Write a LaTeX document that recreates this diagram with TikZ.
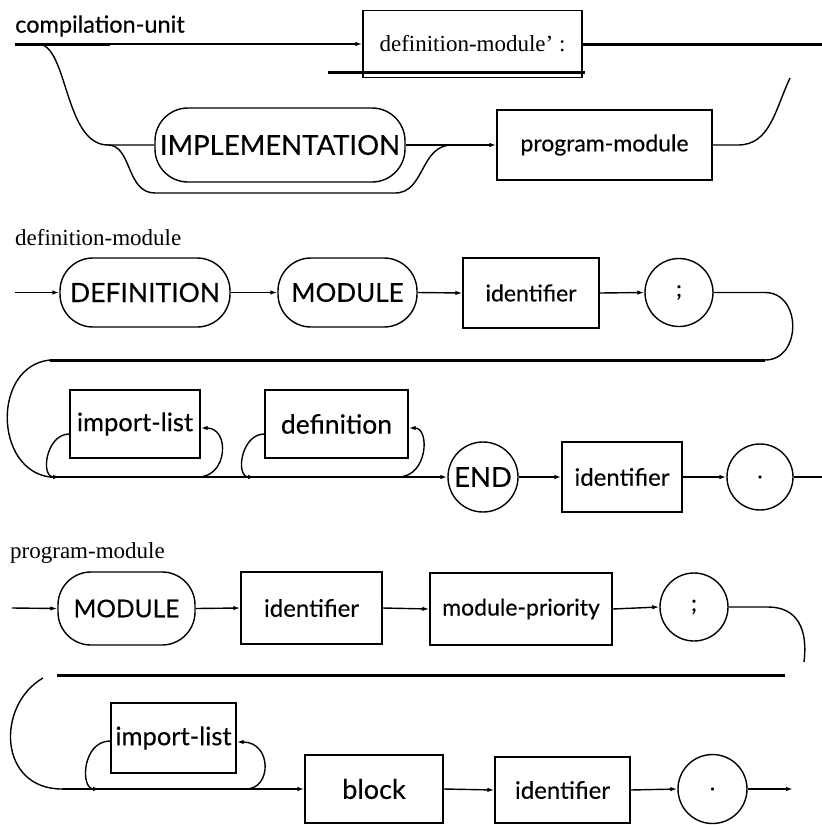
\documentclass[tikz,border=0pt]{standalone}
\usepackage{fontspec}
\setmainfont{Liberation Serif}
\newfontfamily\railsans[FakeBold=0.3]{Lato}
\usetikzlibrary{arrows.meta,calc}

\newcommand\rsz[1]{\railsans\fontsize{#1}{#1}\selectfont}

\tikzset{
  rail/.style={line width=1.4pt},
  heavy/.style={line width=3pt},
  arr/.style={rail,-{Latex[length=7pt,width=4.5pt]}},
  nonterm/.style={draw,rail,rectangle,inner sep=0pt,font=\rsz{23}},
  term/.style={draw,rail,rectangle,rounded corners=33pt,inner sep=0pt,font=\rsz{26}},
  punct/.style={draw,rail,circle,inner sep=0pt,font=\rsz{23}},
  title/.style={anchor=west,inner sep=0pt},
}

\begin{document}
\begin{tikzpicture}[x=1pt,y=-1pt]
\useasboundingbox (0,0) rectangle (822,825);

% ---------------- compilation-unit ----------------
\node[title,font=\rsz{23.5}] (t1) at (15,26) {compilation-unit};
\node[nonterm,font=\fontsize{23}{23}\selectfont,minimum width=219pt,minimum height=67pt] (defm) at (472.5,44) {definition-module' :};
\node[term,font=\rsz{27.5},minimum width=250pt,minimum height=74pt] (impl) at (280,145) {IMPLEMENTATION};
\node[nonterm,minimum width=215pt,minimum height=70pt] (pm) at (604.5,145) {program-module};

\coordinate (cuA) at (15,44);
\coordinate (cuB) at (110,44);
\coordinate (cuEnd) at (822,44);
\coordinate (ulA) at (328,72);
\coordinate (ulB) at (585,72);
\coordinate (pmEnd) at (790,78);

\draw[heavy] (cuA) -- (cuB);
\draw[arr] (cuB) -- (defm.west);
\draw[heavy] (ulA) -- (ulB);
\draw[heavy] (defm.east) -- (cuEnd);
\draw[rail] (38,44) .. controls (68,44) and (64,145) .. (108,145) -- (impl.west);
\draw[rail] (108,145) .. controls (132,145) and (126,193) .. (155,193) -- (395,193)
            .. controls (425,193) and (420,145) .. (452,145);
\draw[arr] (impl.east) -- (pm.west);
\draw[rail] (pm.east) -- (738,145) .. controls (770,145) and (775,110) .. (pmEnd);

% ---------------- definition-module ----------------
\node[title,font=\fontsize{23}{23}\selectfont] (t2) at (15,238) {definition-module};
\node[term,font=\rsz{26.5},minimum width=170pt,minimum height=69pt] (def) at (145,292.5) {DEFINITION};
\node[term,font=\rsz{26},minimum width=139pt,minimum height=69pt] (mod) at (347.5,292.5) {MODULE};
\node[nonterm,minimum width=136pt,minimum height=70pt] (id1) at (531,293) {identifier};
\node[punct,minimum size=68pt] (semi1) at (679,292.5) {;};

\node[nonterm,font=\rsz{25.5},minimum width=130pt,minimum height=68pt] (il1) at (135,424) {import-list};
\node[nonterm,font=\rsz{26.5},minimum width=143pt,minimum height=68pt] (defn) at (336.5,424) {definition};
\node[punct,font=\rsz{27.5},minimum size=70pt] (end) at (483,477) {END};
\node[nonterm,font=\rsz{24},minimum width=120pt,minimum height=70pt] (id2) at (622,477) {identifier};
\node[punct,minimum size=66pt] (dot1) at (760,477) {.};

\coordinate (s2in) at (15,292.5);
\coordinate (s2out) at (822,477);
\coordinate (rowL) at (50,477);

\draw[arr] (s2in) -- (def.west);
\draw[arr] (def.east) -- (mod.west);
\draw[arr] (mod.east) -- (id1.west);
\draw[arr] (id1.east) -- (semi1.west);
\draw[rail] (semi1.east) -- (765,292.5) .. controls (802,292.5) and (802,360) .. (765,360);
\draw[heavy] (765,360) -- (50,360);
\draw[rail] (50,360) .. controls (-8,366) and (-6,470) .. (rowL);
\draw[arr] (rowL) -- (end.west);
% repetition loops
\draw[arr] ($(il1.west)+(0,10)$) .. controls (46,434) and (40,477) .. (60,477);
\draw[arr] (198,477) .. controls (228,477) and (230,428) .. ($(il1.east)+(0,4)$);
\draw[arr] ($(defn.west)+(0,10)$) .. controls (241,434) and (235,477) .. (255,477);
\draw[arr] (398,477) .. controls (428,477) and (430,428) .. ($(defn.east)+(0,4)$);
\draw[arr] (end.east) -- (id2.west);
\draw[arr] (id2.east) -- (dot1.west);
\draw[rail] (dot1.east) -- (s2out);

% ---------------- program-module ----------------
\node[title,font=\fontsize{23}{23}\selectfont] (t3) at (10,553) {program-module};
\node[term,font=\rsz{24.5},minimum width=137pt,minimum height=73pt] (mod3) at (126.5,608.5) {MODULE};
\node[nonterm,font=\rsz{24},minimum width=141pt,minimum height=72pt] (id3) at (311.5,608) {identifier};
\node[nonterm,minimum width=182pt,minimum height=72pt] (mp) at (521,609) {module-priority};
\node[punct,minimum size=68pt] (semi3) at (694,607) {;};

\node[nonterm,font=\rsz{25.5},minimum width=125pt,minimum height=70pt] (il3) at (173.5,738) {import-list};
\node[nonterm,font=\rsz{27},minimum width=138pt,minimum height=68pt] (blk) at (374,789) {block};
\node[nonterm,font=\rsz{24},minimum width=135pt,minimum height=66pt] (id4) at (562.5,790) {identifier};
\node[punct,minimum size=69pt] (dot3) at (712.5,789) {.};

\coordinate (s3in) at (12,608);
\coordinate (s3cut) at (804,662);
\coordinate (barA) at (57,675);
\coordinate (barB) at (785,675);
\coordinate (s3out) at (793,789);

\draw[arr] (s3in) -- (mod3.west);
\draw[arr] (mod3.east) -- (id3.west);
\draw[arr] (id3.east) -- (mp.west);
\draw[arr] (mp.east) -- (semi3.west);
\draw[rail] (semi3.east) -- (768,607) .. controls (798,607) and (808,630) .. (s3cut);
\draw[heavy] (barA) -- (barB);
\draw[rail] (43,678) .. controls (-4,705) and (-2,789) .. (62,789);
\draw[arr] (62,789) -- (blk.west);
\draw[arr] ($(il3.west)+(0,3)$) .. controls (82,741) and (80,789) .. (100,789);
\draw[arr] (246,789) .. controls (272,789) and (272,742) .. ($(il3.east)+(0,4)$);
\draw[arr] (blk.east) -- (id4.west);
\draw[arr] (id4.east) -- (dot3.west);
\draw[arr] (dot3.east) -- (s3out);
\end{tikzpicture}
\end{document}
